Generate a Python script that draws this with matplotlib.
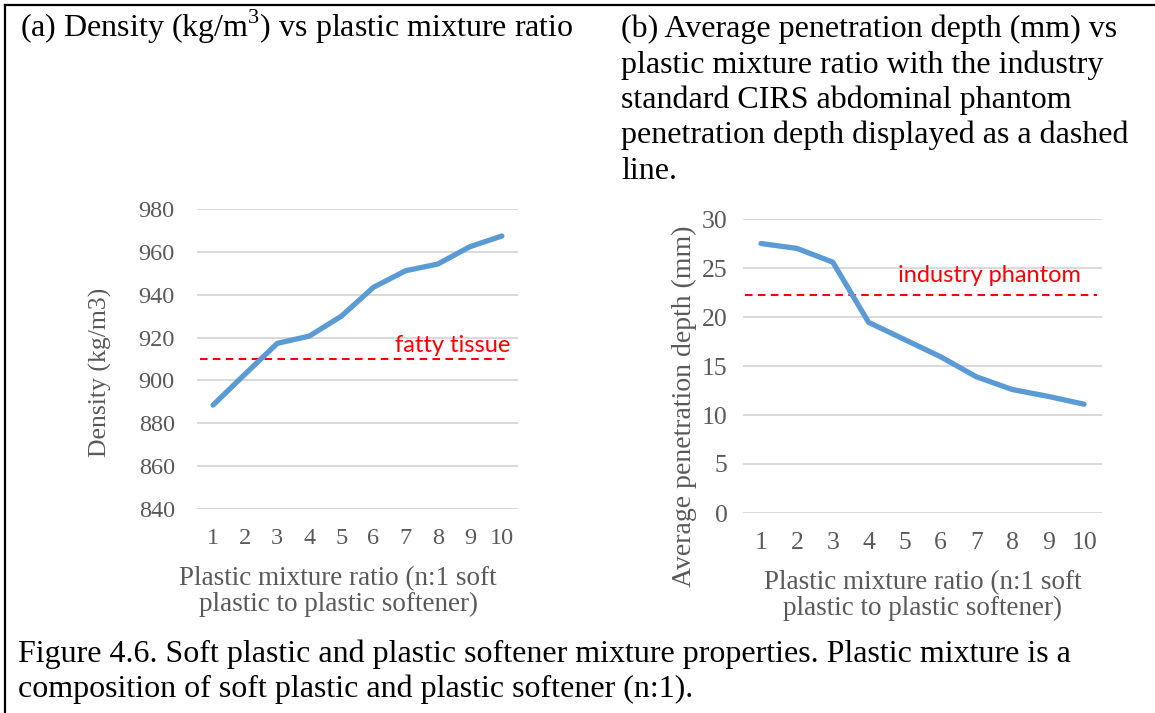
import numpy as np
import matplotlib.pyplot as plt
from matplotlib.lines import Line2D

# data
ratio = [1, 2, 3, 4, 5, 6, 7, 8, 9, 10]
density = [888.5, 903, 917.3, 920.7, 930, 943.5, 951.2, 954.3, 962.4, 967.4]
depth = [27.5, 27.0, 25.6, 19.45, 17.7, 15.95, 13.9, 12.6, 11.9, 11.1]
fatty_tissue = 910
industry_phantom = 22.25
density_ticks = [840, 860, 880, 900, 920, 940, 960, 980]
depth_ticks = [0, 5, 10, 15, 20, 25, 30]

W, H = 1155, 713
plt.rcParams['mathtext.fontset'] = 'custom'
plt.rcParams['mathtext.rm'] = 'Liberation Serif'
fig = plt.figure(figsize=(W / 100, H / 100), dpi=100)

serif = 'Liberation Serif'
grey = '#595959'
blue = '#5b9bd5'


def px_axes(x0, y0, x1, y1):
    return fig.add_axes([x0 / W, 1 - y1 / H, (x1 - x0) / W, (y1 - y0) / H])


def style(ax, ticks, pad, size):
    ax.set_xlim(0.5, 10.5)
    ax.set_ylim(ticks[0], ticks[-1])
    ax.set_yticks(ticks)
    ax.set_xticks(ratio)
    ax.grid(axis='y', color='#d9d9d9', linewidth=1.4)
    ax.set_axisbelow(True)
    for s in ax.spines.values():
        s.set_visible(False)
    ax.tick_params(length=0, colors=grey, labelsize=size)
    ax.tick_params(axis='y', pad=pad)
    ax.tick_params(axis='x', pad=14)
    for lab in ax.get_xticklabels() + ax.get_yticklabels():
        lab.set_fontfamily(serif)


xlabel = 'Plastic mixture ratio (n:1 soft\nplastic to plastic softener)'

# panel (a)
ax1 = px_axes(197, 209, 518, 509)
style(ax1, density_ticks, 16, 17.5)
ax1.plot(ratio, density, color=blue, linewidth=3.8, solid_capstyle='round', zorder=3)
ax1.plot([0.59, 10.25], [fatty_tissue, fatty_tissue], color='#ff0000', linewidth=1.5,
         dashes=(3.6, 2.6), zorder=2)
ax1.text(10.25, 916.5, 'fatty tissue', color='#ff0000', fontsize=17, family='Lato',
         ha='right', va='center')
ax1.set_xlabel(xlabel, family=serif, color=grey, fontsize=19.5, labelpad=12,
               linespacing=1.02)
ax1.xaxis.label.set_x(0.44)
fig.text(100 / W, 1 - 372 / H, 'Density (kg/m3)', rotation=90, family=serif,
         color=grey, fontsize=18.5, ha='center', va='center')

# panel (b)
ax2 = px_axes(743, 219, 1102, 513)
style(ax2, depth_ticks, 11, 18.5)
ax2.plot(ratio, depth, color=blue, linewidth=3.8, solid_capstyle='round', zorder=3)
ax2.plot([0.56, 10.36], [industry_phantom, industry_phantom], color='#ff0000',
         linewidth=1.5, dashes=(3.6, 2.6), zorder=2)
ax2.text(9.92, 24.2, 'industry phantom', color='#ff0000', fontsize=17, family='Lato',
         ha='right', va='center')
ax2.set_xlabel(xlabel, family=serif, color=grey, fontsize=19.5, labelpad=11,
               linespacing=1.05)
fig.text(684 / W, 1 - 406 / H, 'Average penetration depth (mm)', rotation=90,
         family=serif, color=grey, fontsize=20, ha='center', va='center')

# captions
fig.text(20 / W, 1 - 37 / H, '(a) Density (kg/m$^3$) vs plastic mixture ratio',
         family=serif, fontsize=23, va='baseline')
b_lines = ['(b) Average penetration depth (mm) vs',
           'plastic mixture ratio with the industry',
           'standard CIRS abdominal phantom',
           'penetration depth displayed as a dashed',
           'line.']
for i, t in enumerate(b_lines):
    fig.text(621 / W, 1 - (37 + 35.5 * i) / H, t, family=serif, fontsize=23,
             va='baseline')
cap_lines = ['Figure 4.6. Soft plastic and plastic softener mixture properties. '
             'Plastic mixture is a',
             'composition of soft plastic and plastic softener (n:1).']
for i, t in enumerate(cap_lines):
    fig.text(18 / W, 1 - (662 + 35.5 * i) / H, t, family=serif, fontsize=23,
             va='baseline')

# frame (left and top)
fig.add_artist(Line2D([5 / W, 5 / W], [0, 1 - 5 / H], color='black', linewidth=1.6))
fig.add_artist(Line2D([5 / W, 1], [1 - 5 / H, 1 - 5 / H], color='black', linewidth=1.6))

fig.savefig('out.png', dpi=100)
